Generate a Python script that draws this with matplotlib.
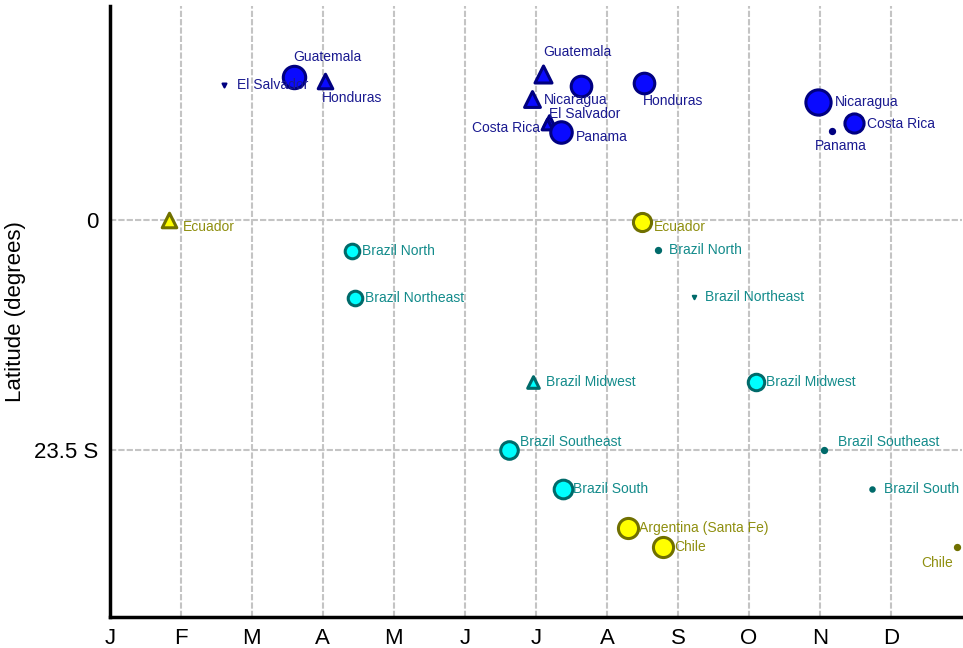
import matplotlib.pyplot as plt

plt.rcParams['font.family'] = ['Liberation Sans', 'DejaVu Sans']

# month position (0 = start of Jan), latitude (deg, S negative), marker size
names = ['El Salvador', 'Guatemala', 'Honduras', 'Guatemala', 'Nicaragua',
         'El Salvador', 'Costa Rica', 'Panama', '', 'Honduras',
         'Nicaragua', 'Costa Rica', 'Panama',
         'Ecuador', 'Ecuador', 'Argentina (Santa Fe)', 'Chile', 'Chile',
         'Brazil North', 'Brazil Northeast', 'Brazil North', 'Brazil Northeast',
         'Brazil Midwest', 'Brazil Midwest', 'Brazil Southeast', 'Brazil Southeast',
         'Brazil South', 'Brazil South']
months = [1.61, 2.59, 3.03, 6.10, 5.94,
          6.19, 6.15, 6.35, 6.63, 7.52,
          9.97, 10.48, 10.17,
          0.83, 7.49, 7.30, 7.79, 11.93,
          3.41, 3.45, 7.72, 8.23,
          5.96, 9.10, 5.62, 10.06,
          6.38, 10.73]
lats = [13.7, 14.5, 14.1, 14.85, 12.3,
        10.1, 9.8, 8.95, 13.6, 13.9,
        12.0, 9.87, 9.05,
        0.0, -0.2, -31.4, -33.4, -33.4,
        -3.15, -8.0, -3.05, -7.9,
        -16.6, -16.6, -23.5, -23.5,
        -27.5, -27.5]
sizes = [8, 260, 110, 150, 130,
         70, 60, 240, 220, 220,
         330, 190, 14,
         110, 170, 210, 210, 14,
         110, 110, 14, 6,
         70, 140, 160, 14,
         180, 10]
shapes = ['v', 'o', '^', '^', '^',
          '^', '^', 'o', 'o', 'o',
          'o', 'o', 'o',
          '^', 'o', 'o', 'o', 'o',
          'o', 'o', 'o', 'v',
          '^', 'o', 'o', 'o',
          'o', 'o']
groups = ['ca'] * 13 + ['y'] * 5 + ['br'] * 10

month_labels = ['J', 'F', 'M', 'A', 'M', 'J', 'J', 'A', 'S', 'O', 'N', 'D']

face = {'ca': '#0a0aff', 'y': '#ffff00', 'br': '#00ffff'}
edge = {'ca': '#000080', 'y': '#707000', 'br': '#006a6a'}
text_col = {'ca': '#1a1a90', 'y': '#8f8f10', 'br': '#138b8b'}

# label offsets in points, with alignment
offsets = [(9, 0, 'left', 'center'), (0, 10, 'left', 'bottom'), (-2, -7, 'left', 'top'),
           (0, 11, 'left', 'bottom'), (9, -1, 'left', 'center'),
           (0, 0, 'left', 'bottom'), (-5, -3, 'right', 'center'), (11, -4, 'left', 'center'),
           (0, 0, 'left', 'center'), (-1, -8, 'left', 'top'),
           (12, 0, 'left', 'center'), (9, -1, 'left', 'center'), (6, -6, 'center', 'top'),
           (10, -5, 'left', 'center'), (9, -4, 'left', 'center'), (8, 0, 'left', 'center'),
           (8, 0, 'left', 'center'), (-3, -6, 'right', 'top'),
           (7, 0, 'left', 'center'), (7, 0, 'left', 'center'), (8, 0, 'left', 'center'),
           (8, 0, 'left', 'center'),
           (9, 0, 'left', 'center'), (7, 0, 'left', 'center'), (8, 6, 'left', 'center'),
           (10, 6, 'left', 'center'), (7, 0, 'left', 'center'), (9, 0, 'left', 'center')]

fig = plt.figure(figsize=(9.63, 6.48), dpi=100)
ax = fig.add_axes([0.114, 0.048, 0.885, 0.943])

for i in range(len(names)):
    g = groups[i]
    small = sizes[i] < 20
    ax.scatter(months[i], lats[i], s=sizes[i], marker=shapes[i],
               c=edge[g] if small else face[g],
               edgecolors=edge[g], linewidths=1.5 if small else 2.2, zorder=3)
    if names[i]:
        dx, dy, ha, va = offsets[i]
        ax.annotate(names[i], (months[i], lats[i]), xytext=(dx, dy),
                    textcoords='offset points', ha=ha, va=va, fontsize=10,
                    color=text_col[g], zorder=4)

ax.set_xlim(0, 12)
ax.set_ylim(-40.5, 21.8)
ax.set_xticks(range(12))
ax.set_xticklabels(month_labels, fontsize=16)
ax.set_yticks([-23.5, 0])
ax.set_yticklabels(['23.5 S', '0'], fontsize=16)
ax.tick_params(length=0, pad=8)
ax.set_ylabel('Latitude (degrees)', fontsize=16, labelpad=6)

ax.grid(True, color='#c4c4c4', linestyle=(0, (3, 1)), linewidth=1.5)
ax.set_axisbelow(True)
ax.spines['top'].set_visible(False)
ax.spines['right'].set_visible(False)
ax.spines['left'].set_linewidth(2.5)
ax.spines['bottom'].set_linewidth(2.5)

fig.savefig('out.png', dpi=100)
